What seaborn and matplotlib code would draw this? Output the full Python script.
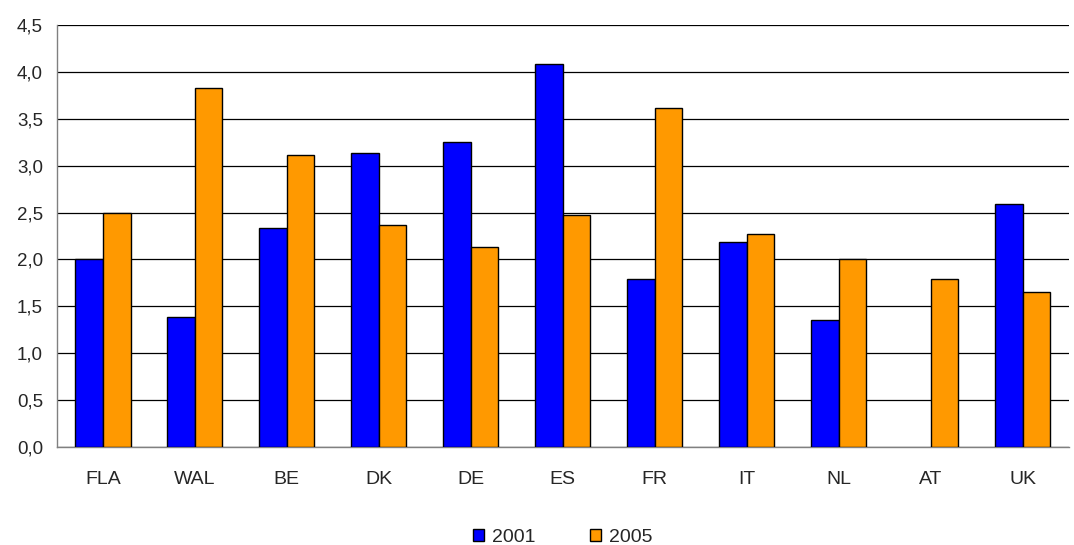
import numpy as np
import pandas as pd
import seaborn as sns
import matplotlib.pyplot as plt
from matplotlib.ticker import FuncFormatter, FixedLocator

countries = ["FLA", "WAL", "BE", "DK", "DE", "ES", "FR", "IT", "NL", "AT", "UK"]
vals_2001 = [2.00, 1.39, 2.34, 3.14, 3.25, 4.09, 1.79, 2.19, 1.35, np.nan, 2.59]
vals_2005 = [2.50, 3.83, 3.11, 2.37, 2.13, 2.47, 3.62, 2.27, 2.00, 1.79, 1.65]
years = ["2001", "2005"]

df = pd.DataFrame({
    "Country": countries * 2,
    "Year": [years[0]] * len(countries) + [years[1]] * len(countries),
    "Value": vals_2001 + vals_2005,
})

sns.set_style("white")
plt.rcParams["font.family"] = ["Liberation Sans", "DejaVu Sans"]

fig, ax = plt.subplots(figsize=(10.74, 5.45), dpi=100)
fig.subplots_adjust(left=0.053, right=0.995, top=0.954, bottom=0.18)

sns.barplot(data=df, x="Country", y="Value", hue="Year",
            palette={"2001": "#0000ff", "2005": "#ff9900"},
            width=0.6, gap=0, edgecolor="black", linewidth=1,
            saturation=1, ax=ax, zorder=3)

ax.set_ylim(0, 4.5)
ax.set_yticks(np.arange(0, 4.51, 0.5))
ax.yaxis.set_major_formatter(FuncFormatter(lambda v, p: f"{v:.1f}".replace(".", ",")))
ax.grid(axis="y", color="black", linewidth=0.9, zorder=0)
ax.set_xlim(-0.5, len(countries) - 0.5)
ax.set_xlabel("")
ax.set_ylabel("")

for s in ["top", "right"]:
    ax.spines[s].set_visible(False)
for s in ["left", "bottom"]:
    ax.spines[s].set_color("#808080")
    ax.spines[s].set_linewidth(1)

ax.tick_params(axis="x", which="major", length=0, pad=17, labelsize=14)
ax.xaxis.set_minor_locator(FixedLocator(np.arange(-0.5, len(countries), 1)))
ax.tick_params(axis="x", which="minor", length=5, color="#808080", direction="out")
ax.tick_params(axis="y", length=5, color="#808080", direction="out", labelsize=13.5, pad=5)

ax.legend(loc="center", bbox_to_anchor=(0.5, -0.215), ncol=2, frameon=False,
          fontsize=14, handlelength=0.57, handleheight=0.57, columnspacing=2.8,
          handletextpad=0.4, borderpad=0)

plt.savefig("out.png", dpi=100)
